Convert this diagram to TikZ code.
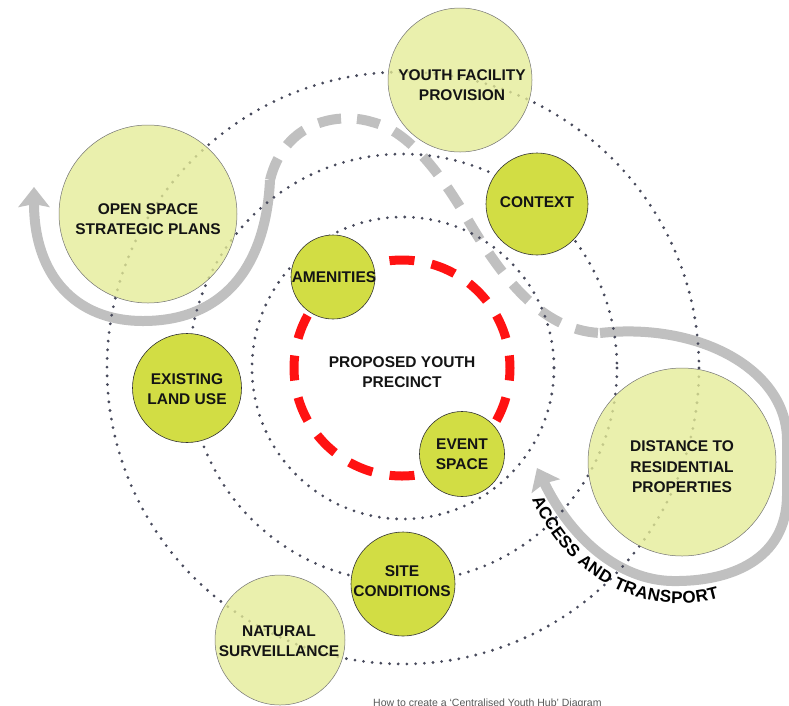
\documentclass[tikz,border=0pt]{standalone}
\usepackage{fontspec}
\setmainfont{Liberation Sans}
\usetikzlibrary{arrows.meta,decorations.text}
\definecolor{lightc}{RGB}{229,236,150}
\definecolor{darkc}{RGB}{210,221,68}
\definecolor{dotc}{RGB}{72,74,92}
\definecolor{arrc}{RGB}{192,192,192}
\definecolor{redc}{RGB}{255,18,18}
\begin{document}
\begin{tikzpicture}[x=1pt,y=-1pt,
  lightcirc/.style={circle, draw=black!55, line width=0.5pt, fill=lightc, fill opacity=0.78, draw opacity=1, inner sep=0pt},
  darkcirc/.style={circle, draw=black!80, line width=0.6pt, fill=darkc, inner sep=0pt},
  lbl/.style={font=\fontsize{15.5}{20.5}\selectfont\bfseries, align=center, text=black!92, inner sep=0pt},
  dotring/.style={draw=dotc, line width=3.1pt, line cap=round, dash pattern=on 0pt off 8.7pt},
  grayline/.style={draw=arrc, line width=10pt},
  graytip/.style={-{Stealth[width=31pt,length=20pt,inset=3pt]}},
]
\useasboundingbox (0,0) rectangle (789,705);
\fill[white] (0,0) rectangle (789,705);

\coordinate (ctr) at (403,368);
\coordinate (ls) at (270,180);
\coordinate (lt) at (34,187);
\coordinate (rs) at (600,333);
\coordinate (rt) at (537,468);

% gray arrows
\draw[grayline, dash pattern=on 23pt off 16pt] (ls) .. controls (285,120) and (340,112) .. (372,122)
   .. controls (405,130) and (435,165) .. (465,215)
   .. controls (500,275) and (540,330) .. (rs);
\draw[grayline, graytip] (ls) .. controls (266,265) and (225,321) .. (143,321)
   .. controls (75,321) and (34,275) .. (lt);
\draw[grayline, graytip] (rs) .. controls (700,322) and (787,370) .. (787,440)
   -- (787,495) .. controls (787,560) and (730,582) .. (672,581)
   .. controls (620,580) and (572,540) .. (rt);

% dotted rings
\draw[dotring] (ctr) circle[radius=151];
\draw[dotring] (ctr) circle[radius=214];
\draw[dotring] (ctr) circle[radius=296];

% red dashed ring
\draw[redc, line width=9pt, dash pattern=on 25pt off 17.41pt, dash phase=12.5pt] (402,368) circle[radius=108];

% light circles
\node[lightcirc, minimum size=144pt] (yfp) at (460,80) {};
\node[lightcirc, minimum size=178pt] (osp) at (148,214) {};
\node[lightcirc, minimum size=130pt] (nsv) at (280,640) {};
\node[lightcirc, minimum size=188pt] (dtr) at (682,462) {};

% dark circles
\node[darkcirc, minimum size=102pt] (ctx) at (537,204) {};
\node[darkcirc, minimum size=84pt] (ame) at (333,277) {};
\node[darkcirc, minimum size=109pt] (elu) at (187,388) {};
\node[darkcirc, minimum size=104pt] (sco) at (403,584) {};
\node[darkcirc, minimum size=85pt] (evs) at (462,454) {};

% labels
\node[lbl] (yfpt) at (462,85) {YOUTH FACILITY\\PROVISION};
\node[lbl] (ospt) at (148,219) {OPEN SPACE\\STRATEGIC PLANS};
\node[lbl] (nsvt) at (279,641) {NATURAL\\SURVEILLANCE};
\node[lbl] (dtrt) at (682,467) {DISTANCE TO\\RESIDENTIAL\\PROPERTIES};
\node[lbl] (ctxt) at (537,202) {CONTEXT};
\node[lbl] (amet) at (334,277) {AMENITIES};
\node[lbl] (elut) at (187,389) {EXISTING\\LAND USE};
\node[lbl] (scot) at (402,581) {SITE\\CONDITIONS};
\node[lbl] (evst) at (462,454) {EVENT\\SPACE};
\node[lbl] (ppt) at (402,372) {PROPOSED YOUTH\\PRECINCT};

% curved text
\path[decorate, decoration={text along path, text align={fit to path},
  text={|\fontsize{17}{20}\selectfont\bfseries|ACCESS AND TRANSPORT}}]
  (532,499) .. controls (568,582) and (650,618) .. (719,598);

% caption
\node[anchor=base west, font=\fontsize{10.5}{12}\selectfont, text=black!65, inner sep=0pt] (cap) at (373,706) {How to create a ‘Centralised Youth Hub’ Diagram};
\end{tikzpicture}
\end{document}
